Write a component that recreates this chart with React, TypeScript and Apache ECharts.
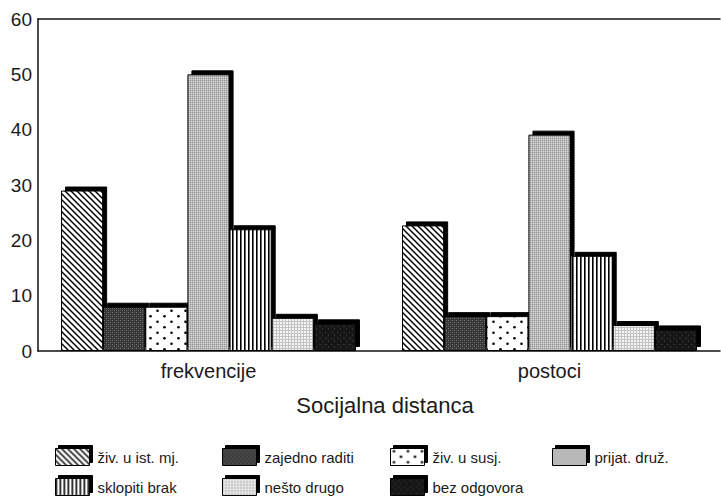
import React, { useEffect, useRef } from "react";
import * as echarts from "echarts";

const categories = ["frekvencije", "postoci"];
const seriesNames = [
  "živ. u ist. mj.",
  "zajedno raditi",
  "živ. u susj.",
  "prijat. druž.",
  "sklopiti brak",
  "nešto drugo",
  "bez odgovora",
];
const frekvencije = [29, 8, 8, 50, 22, 6, 5];
const postoci = [22.7, 6.3, 6.3, 39.1, 17.2, 4.7, 3.9];
const yMin = 0;
const yMax = 60;
const yStep = 10;
const axisTitle = "Socijalna distanca";

const FONT = "'Liberation Sans', Arial, Helvetica, sans-serif";

type Draw = (ctx: CanvasRenderingContext2D, w: number, h: number) => void;

function tile(w: number, h: number, draw: Draw) {
  const c = document.createElement("canvas");
  c.width = w;
  c.height = h;
  const ctx = c.getContext("2d")!;
  draw(ctx, w, h);
  return { image: c.toDataURL(), repeat: "repeat", imageWidth: w, imageHeight: h };
}

function makePatterns() {
  const diag = tile(6, 6, (ctx, w, h) => {
    ctx.fillStyle = "#fff";
    ctx.fillRect(0, 0, w, h);
    ctx.strokeStyle = "#000";
    ctx.lineWidth = 1.5;
    for (const k of [-6, 0, 6]) {
      ctx.beginPath();
      ctx.moveTo(k - 1, -1);
      ctx.lineTo(k + 7, 7);
      ctx.stroke();
    }
  });
  const darkGray = tile(4, 4, (ctx, w, h) => {
    ctx.fillStyle = "#363636";
    ctx.fillRect(0, 0, w, h);
    ctx.fillStyle = "#777";
    ctx.fillRect(0, 0, 1, 1);
    ctx.fillRect(2, 2, 1, 1);
    ctx.fillStyle = "#555";
    ctx.fillRect(2, 0, 1, 1);
    ctx.fillRect(0, 2, 1, 1);
  });
  const dots = tile(14, 11, (ctx, w, h) => {
    ctx.fillStyle = "#fff";
    ctx.fillRect(0, 0, w, h);
    ctx.fillStyle = "#000";
    for (const [x, y] of [
      [3.5, 2.75],
      [10.5, 8.25],
    ]) {
      ctx.beginPath();
      ctx.arc(x, y, 1.3, 0, Math.PI * 2);
      ctx.fill();
    }
  });
  const midGray = tile(2, 2, (ctx, w, h) => {
    ctx.fillStyle = "#bcbcbc";
    ctx.fillRect(0, 0, w, h);
    ctx.fillStyle = "#929292";
    ctx.fillRect(0, 0, 1, 1);
    ctx.fillStyle = "#d4d4d4";
    ctx.fillRect(1, 1, 1, 1);
  });
  const vert = tile(4, 4, (ctx, w, h) => {
    ctx.fillStyle = "#fff";
    ctx.fillRect(0, 0, w, h);
    ctx.fillStyle = "#000";
    ctx.fillRect(0, 0, 1.6, h);
  });
  const lightGrid = tile(3, 3, (ctx, w, h) => {
    ctx.fillStyle = "#f4f4f4";
    ctx.fillRect(0, 0, w, h);
    ctx.fillStyle = "#c2c2c2";
    ctx.fillRect(0, 0, w, 1);
    ctx.fillRect(0, 0, 1, h);
  });
  const black = tile(6, 6, (ctx, w, h) => {
    ctx.fillStyle = "#141414";
    ctx.fillRect(0, 0, w, h);
    ctx.fillStyle = "#333";
    ctx.fillRect(1, 2, 2, 1);
    ctx.fillRect(4, 4, 1, 2);
  });
  return [diag, darkGray, dots, midGray, vert, lightGrid, black];
}

const legendCols = [50, 217, 385, 547];
const legendRows = [443, 473];

export default function App() {
  const ref = useRef<HTMLDivElement>(null);
  useEffect(() => {
    document.body.style.margin = "0";
    if (!ref.current) return;
    const chart = echarts.init(ref.current, undefined, { renderer: "svg" });
    const patterns = makePatterns();
    const shadow = {
      borderColor: "#000",
      borderWidth: 1,
      shadowColor: "#000",
      shadowBlur: 0,
      shadowOffsetX: 4,
      shadowOffsetY: -4,
    };
    const series = seriesNames.map((name, i) => ({
      name,
      type: "bar",
      xAxisIndex: 0,
      barGap: "0%",
      barCategoryGap: "13.5%",
      data: [frekvencije[i], postoci[i]],
      itemStyle: { color: patterns[i] as any, ...shadow },
      emphasis: { disabled: true },
    }));
    const legends = seriesNames.map((name, i) => ({
      data: [name],
      left: legendCols[i % 4],
      top: legendRows[Math.floor(i / 4)],
      icon: "rect",
      itemWidth: 34,
      itemHeight: 17,
      selectedMode: false,
      itemStyle: {
        borderColor: "#000",
        borderWidth: 1,
        shadowColor: "#000",
        shadowBlur: 0,
        shadowOffsetX: 3,
        shadowOffsetY: -3,
      },
      textStyle: {
        fontFamily: FONT,
        fontSize: 15,
        color: "#1a1a1a",
        padding: [0, 0, 0, 3],
      },
    }));
    chart.setOption({
      animation: false,
      backgroundColor: "#fff",
      grid: { left: 38, right: 1, top: 19, bottom: 147, containLabel: false },
      legend: legends,
      xAxis: [
        {
          type: "category",
          data: categories,
          position: "bottom",
          axisLine: { show: true, lineStyle: { color: "#111", width: 1.5 } },
          axisTick: { show: false },
          axisLabel: { fontFamily: FONT, fontSize: 20, color: "#1a1a1a", margin: 10 },
          name: axisTitle,
          nameLocation: "middle",
          nameGap: 43,
          nameTextStyle: {
            fontFamily: FONT,
            fontSize: 22,
            color: "#1a1a1a",
            padding: [0, 0, 0, 12],
          },
        },
        {
          type: "category",
          data: categories,
          position: "top",
          axisLine: { show: true, lineStyle: { color: "#111", width: 1.5 } },
          axisTick: { show: false },
          axisLabel: { show: false },
        },
      ],
      yAxis: {
        type: "value",
        min: yMin,
        max: yMax,
        interval: yStep,
        axisLine: { show: true, lineStyle: { color: "#111", width: 1.5 } },
        axisTick: { show: false },
        splitLine: { show: false },
        axisLabel: { fontFamily: FONT, fontSize: 19, color: "#1a1a1a", margin: 6 },
      },
      series,
    });
    return () => chart.dispose();
  }, []);
  return <div ref={ref} style={{ width: 721, height: 498 }} />;
}
